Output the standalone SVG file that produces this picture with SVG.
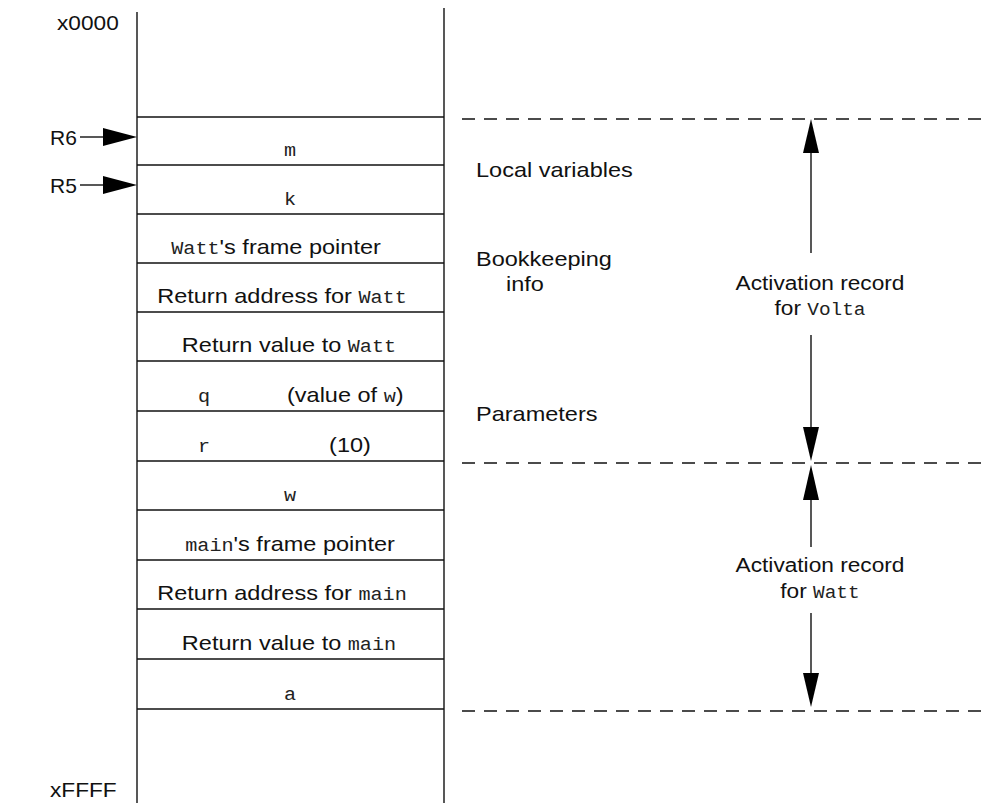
<svg xmlns="http://www.w3.org/2000/svg" width="987" height="803" viewBox="0 0 987 803">
<style>
.t{font-family:"Liberation Sans",Arial,sans-serif;font-size:21px;fill:#111}
.m{font-family:"Liberation Mono","Courier New",monospace;font-size:18px;fill:#222}
.mid{text-anchor:middle}
.ln{stroke:#111;stroke-width:1.4;fill:none}
.row{stroke:#111;stroke-width:1.3}
.dash{stroke:#111;stroke-width:1.3;stroke-dasharray:13 9}
.ah{fill:#000}
</style>
<rect width="987" height="803" fill="#fff"/>
<g id="stack">
<line class="ln" x1="137" y1="12" x2="137" y2="803"/>
<line class="ln" x1="444" y1="8" x2="444" y2="803"/>
<line class="row" x1="137" y1="117" x2="444" y2="117"/>
<line class="row" x1="137" y1="165" x2="444" y2="165"/>
<line class="row" x1="137" y1="214" x2="444" y2="214"/>
<line class="row" x1="137" y1="263" x2="444" y2="263"/>
<line class="row" x1="137" y1="312" x2="444" y2="312"/>
<line class="row" x1="137" y1="361" x2="444" y2="361"/>
<line class="row" x1="137" y1="411" x2="444" y2="411"/>
<line class="row" x1="137" y1="461" x2="444" y2="461"/>
<line class="row" x1="137" y1="510" x2="444" y2="510"/>
<line class="row" x1="137" y1="560" x2="444" y2="560"/>
<line class="row" x1="137" y1="609" x2="444" y2="609"/>
<line class="row" x1="137" y1="659" x2="444" y2="659"/>
<line class="row" x1="137" y1="709" x2="444" y2="709"/>
</g>
<g id="addr-top"><text class="t" transform="translate(57,30) scale(1.08,1)">x0000</text></g>
<g id="addr-bottom"><text class="t" transform="translate(50,797) scale(1.08,1)">xFFFF</text></g>
<g id="reg-R6"><text class="t" transform="translate(50,145)">R6</text></g>
<g id="reg-R5"><text class="t" transform="translate(50,193)">R5</text></g>
<g id="cell-m"><text class="m mid" transform="translate(290,156) scale(1.12,1)">m</text></g>
<g id="cell-k"><text class="m mid" transform="translate(290,205) scale(1.12,1)">k</text></g>
<g id="cell-watt-fp"><text class="t mid" transform="translate(276,254) scale(1.12,1)"><tspan class="m">Watt</tspan>'s frame pointer</text></g>
<g id="cell-watt-ra"><text class="t mid" transform="translate(282,303) scale(1.12,1)">Return address for <tspan class="m">Watt</tspan></text></g>
<g id="cell-watt-rv"><text class="t mid" transform="translate(289,352) scale(1.12,1)">Return value to <tspan class="m">Watt</tspan></text></g>
<g id="cell-q">
<text class="m mid" transform="translate(204,402) scale(1.12,1)">q</text>
<text class="t" transform="translate(287,402) scale(1.12,1)">(value of <tspan class="m">w</tspan>)</text>
</g>
<g id="cell-r">
<text class="m mid" transform="translate(204,452) scale(1.12,1)">r</text>
<text class="t mid" transform="translate(350,452) scale(1.12,1)">(10)</text>
</g>
<g id="cell-w"><text class="m mid" transform="translate(290,501) scale(1.12,1)">w</text></g>
<g id="cell-main-fp"><text class="t mid" transform="translate(290,551) scale(1.12,1)"><tspan class="m">main</tspan>'s frame pointer</text></g>
<g id="cell-main-ra"><text class="t mid" transform="translate(282,600) scale(1.12,1)">Return address for <tspan class="m">main</tspan></text></g>
<g id="cell-main-rv"><text class="t mid" transform="translate(289,650) scale(1.12,1)">Return value to <tspan class="m">main</tspan></text></g>
<g id="cell-a"><text class="m mid" transform="translate(290,700) scale(1.12,1)">a</text></g>
<g id="label-local"><text class="t" transform="translate(476,177) scale(1.12,1)">Local variables</text></g>
<g id="label-bookkeeping">
<text class="t" transform="translate(476,266) scale(1.12,1)">Bookkeeping</text>
<text class="t mid" transform="translate(525,291) scale(1.12,1)">info</text>
</g>
<g id="label-params"><text class="t" transform="translate(476,421) scale(1.12,1)">Parameters</text></g>
<g id="label-volta">
<text class="t mid" transform="translate(820,290) scale(1.08,1)">Activation record</text>
<text class="t mid" transform="translate(820,315) scale(1.08,1)">for <tspan class="m">Volta</tspan></text>
</g>
<g id="label-watt">
<text class="t mid" transform="translate(820,572) scale(1.08,1)">Activation record</text>
<text class="t mid" transform="translate(820,598) scale(1.08,1)">for <tspan class="m">Watt</tspan></text>
</g>
<g id="connectors">
<line class="dash" x1="462" y1="119" x2="987" y2="119"/>
<line class="dash" x1="462" y1="463" x2="987" y2="463"/>
<line class="dash" x1="462" y1="711" x2="987" y2="711"/>
<line class="ln" x1="80" y1="137" x2="105" y2="137"/>
<polygon class="ah" points="137,137 103,128 103,146"/>
<line class="ln" x1="80" y1="185" x2="105" y2="185"/>
<polygon class="ah" points="137,185 103,176 103,194"/>
<line class="ln" x1="811" y1="150" x2="811" y2="253"/>
<polygon class="ah" points="811,119 803,153 819,153"/>
<line class="ln" x1="811" y1="335" x2="811" y2="430"/>
<polygon class="ah" points="811,461 803,427 819,427"/>
<line class="ln" x1="811" y1="497" x2="811" y2="547"/>
<polygon class="ah" points="811,465 803,500 819,500"/>
<line class="ln" x1="811" y1="613" x2="811" y2="676"/>
<polygon class="ah" points="811,707 803,673 819,673"/>
</g>
</svg>
